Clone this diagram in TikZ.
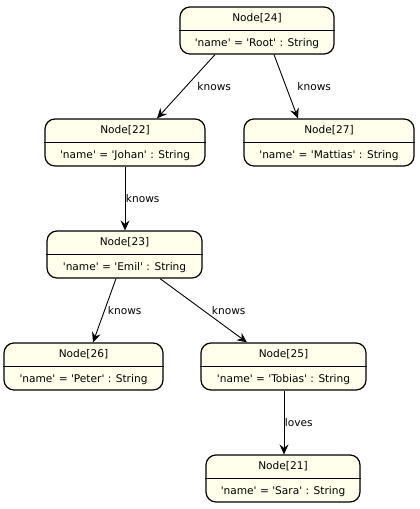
\documentclass[tikz,border=0pt]{standalone}
\usepackage{fontspec}
\setmainfont{DejaVu Sans}[Ligatures=TeXOff]
\usetikzlibrary{arrows.meta}
\definecolor{nodefill}{HTML}{FFFFEC}
\tikzset{
  nbox/.style={draw=black, line width=1.2pt, fill=nodefill, rounded corners=10pt, minimum height=47pt, inner sep=0pt},
  ntext/.style={font=\fontsize{10.6}{12}\selectfont, inner sep=0pt},
  divider/.style={draw=black, line width=1pt},
  rel/.style={draw=black, line width=0.9pt, -{Stealth[length=10pt,width=9pt,inset=3.5pt]}},
  elabel/.style={font=\fontsize{10.6}{12}\selectfont, inner sep=0pt, anchor=west}
}
\newcommand{\umlnode}[5]{%
  \node[nbox, minimum width=#4pt] (#1) at (#2,#3) {};
  \node[ntext] (#1t) at ([yshift=-11.5pt]#1.north) {Node[#5]};
  \draw[divider] (#1.west) -- (#1.east);
}
\begin{document}
\begin{tikzpicture}[x=1pt,y=-1pt]
\useasboundingbox (0,0) rectangle (420,509);
\umlnode{n24}{257}{30.5}{154}{24}
\node[ntext] (n24a) at ([yshift=11.5pt]n24.south) {'name' = 'Root' : String};
\umlnode{n22}{125}{142.5}{160}{22}
\node[ntext] (n22a) at ([yshift=11.5pt]n22.south) {'name' = 'Johan' : String};
\umlnode{n27}{329}{142.5}{170}{27}
\node[ntext] (n27a) at ([yshift=11.5pt]n27.south) {'name' = 'Mattias' : String};
\umlnode{n23}{124.5}{254.5}{155}{23}
\node[ntext] (n23a) at ([yshift=11.5pt]n23.south) {'name' = 'Emil' : String};
\umlnode{n26}{83.5}{366.5}{159}{26}
\node[ntext] (n26a) at ([yshift=11.5pt]n26.south) {'name' = 'Peter' : String};
\umlnode{n25}{283.5}{366.5}{165}{25}
\node[ntext] (n25a) at ([yshift=11.5pt]n25.south) {'name' = 'Tobias' : String};
\umlnode{n21}{283}{478.5}{154}{21}
\node[ntext] (n21a) at ([yshift=11.5pt]n21.south) {'name' = 'Sara' : String};

\draw[rel] ([xshift=-42pt]n24.south) -- node[elabel, xshift=11pt] (l1) {knows} ([xshift=32pt]n22.north);
\draw[rel] ([xshift=17pt]n24.south) -- node[elabel, xshift=11pt] (l2) {knows} ([xshift=-31pt]n27.north);
\draw[rel] (n22.south) -- node[elabel, xshift=0.5pt] (l3) {knows} (n22.south |- n23.north);
\draw[rel] ([xshift=-8.5pt]n23.south) -- node[elabel, xshift=3pt] (l4) {knows} ([xshift=9.5pt]n26.north);
\draw[rel] ([xshift=35.5pt]n23.south) -- node[elabel, xshift=8pt] (l5) {knows} ([xshift=-36.5pt]n25.north);
\draw[rel] ([xshift=0.5pt]n25.south) -- node[elabel, xshift=0.5pt] (l6) {loves} ([xshift=1pt]n21.north);
\end{tikzpicture}
\end{document}
